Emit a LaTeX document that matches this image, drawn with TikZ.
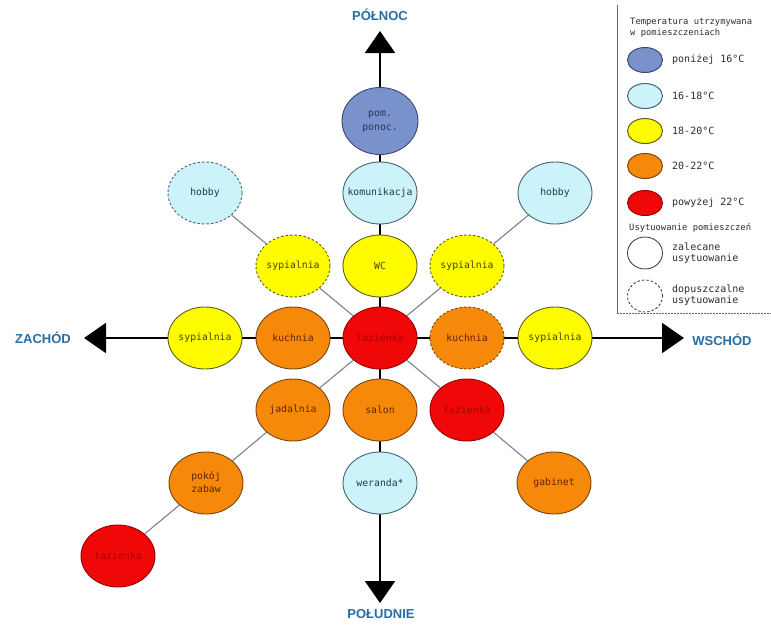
\documentclass[tikz,border=0pt]{standalone}
\usepackage{fontspec}
\setmainfont{Liberation Sans}
\newfontfamily\monofnt{DejaVu Sans Mono}
\usetikzlibrary{shapes.geometric,arrows.meta}
\pgfdeclarelayer{background}
\pgfsetlayers{background,main}
\definecolor{fBlue}{RGB}{122,146,204}
\definecolor{dBlue}{RGB}{60,72,110}
\definecolor{tBlue}{RGB}{40,50,90}
\definecolor{fCyan}{RGB}{204,242,250}
\definecolor{dCyan}{RGB}{70,100,115}
\definecolor{tCyan}{RGB}{30,60,75}
\definecolor{fYel}{RGB}{255,252,0}
\definecolor{dYel}{RGB}{95,95,30}
\definecolor{tYel}{RGB}{70,70,0}
\definecolor{fOra}{RGB}{247,137,10}
\definecolor{dOra}{RGB}{120,70,20}
\definecolor{tOra}{RGB}{95,35,0}
\definecolor{fRed}{RGB}{240,8,8}
\definecolor{dRed}{RGB}{150,0,0}
\definecolor{tRed}{RGB}{170,0,0}
\definecolor{dirBlue}{RGB}{40,110,165}
\definecolor{linkgray}{RGB}{125,130,140}
\definecolor{legText}{RGB}{45,45,45}
\newcommand\roomtxt{\monofnt\fontsize{9.8}{13}\selectfont}
\newcommand\legfont{\monofnt\fontsize{10}{11.5}\selectfont}
\newcommand\legtitlefont{\monofnt\fontsize{8.8}{11}\selectfont}
\newcommand\dirfont{\fontsize{13}{15}\selectfont\bfseries}
\newcommand\zw[1]{\makebox[0pt]{#1}}
\begin{document}
\begin{tikzpicture}[x=1pt,y=-1pt,
  room/.style={ellipse,minimum width=74pt,minimum height=62pt,inner sep=0pt,line width=0.9pt,font=\roomtxt},
  opt/.style={dash pattern=on 2.5pt off 2pt},
  cblue/.style={fill=fBlue,draw=dBlue,text=tBlue},
  ccyan/.style={fill=fCyan,draw=dCyan,text=tCyan},
  cyel/.style={fill=fYel,draw=dYel,text=tYel},
  cora/.style={fill=fOra,draw=dOra,text=tOra},
  cred/.style={fill=fRed,draw=dRed,text=tRed},
  axis/.style={line width=2pt,black},
  link/.style={line width=1.1pt,linkgray},
  tip/.style={-{Triangle[length=22pt,width=30pt]}},
  dirlabel/.style={font=\dirfont,text=dirBlue,inner sep=0pt},
  legdot/.style={ellipse,minimum width=35pt,minimum height=25pt,inner sep=0pt,line width=1pt},
  legout/.style={ellipse,minimum width=35pt,minimum height=32pt,inner sep=0pt,line width=0.8pt,draw=black!80,fill=white},
  legtxt/.style={font=\legfont,text=legText,anchor=west,align=left,inner sep=0pt},
  legframe/.style={line width=0.8pt,black!60}]

\begin{pgfonlayer}{background}
\fill[white] (0,0) rectangle (771,627);
\end{pgfonlayer}
\useasboundingbox (0,0) rectangle (771,627);

% rooms
\node[room,cred] (c) at (380,338) {\zw{łazienka}};
\node[room,cblue,minimum width=76pt,minimum height=67pt] (pom) at (380,121) {\zw{\begin{tabular}{@{}c@{}}pom.\\[1pt]ponoc.\end{tabular}}};
\node[room,ccyan] (kom) at (380,193) {\zw{komunikacja}};
\node[room,cyel] (wc) at (380,266) {\zw{WC}};
\node[room,ccyan,opt] (hobL) at (205,193) {\zw{hobby}};
\node[room,cyel,opt] (syUL) at (293,266) {\zw{sypialnia}};
\node[room,cyel,opt] (syUR) at (467,266) {\zw{sypialnia}};
\node[room,ccyan] (hobR) at (555,193) {\zw{hobby}};
\node[room,cyel] (syL) at (205,338) {\zw{sypialnia}};
\node[room,cora] (kuL) at (293,338) {\zw{kuchnia}};
\node[room,cora,opt] (kuR) at (467,338) {\zw{kuchnia}};
\node[room,cyel] (syR) at (555,338) {\zw{sypialnia}};
\node[room,cora] (jad) at (293,410) {\zw{jadalnia}};
\node[room,cora] (sal) at (380,410) {\zw{salon}};
\node[room,cred] (lazBR) at (467,410) {\zw{łazienka}};
\node[room,ccyan] (wer) at (380,483) {\zw{weranda*}};
\node[room,cora] (gab) at (554,483) {\zw{gabinet}};
\node[room,cora] (zab) at (206,483) {\zw{\begin{tabular}{@{}c@{}}pokój\\zabaw\end{tabular}}};
\node[room,cred] (lazBL) at (118,556) {\zw{łazienka}};

% axis ends
\coordinate (Ntip) at (380,31);
\coordinate (Stip) at (380,603);
\coordinate (Wtip) at (84,338);
\coordinate (Etip) at (684,338);

% direction labels
\node[dirlabel] (nN) at (380,15) {PÓŁNOC};
\node[dirlabel] (nS) at (381,614) {POŁUDNIE};
\node[dirlabel] (nW) at (43,338) {ZACHÓD};
\node[dirlabel] (nE) at (722,340) {WSCHÓD};

\begin{pgfonlayer}{background}
% axes
\draw[axis,tip] (pom) -- (Ntip);
\draw[axis] (pom) -- (kom);
\draw[axis] (kom) -- (wc);
\draw[axis] (wc) -- (c);
\draw[axis] (c) -- (sal);
\draw[axis] (sal) -- (wer);
\draw[axis,tip] (wer) -- (Stip);
\draw[axis,tip] (syL) -- (Wtip);
\draw[axis] (syL) -- (kuL);
\draw[axis] (kuL) -- (c);
\draw[axis] (c) -- (kuR);
\draw[axis] (kuR) -- (syR);
\draw[axis,tip] (syR) -- (Etip);
% diagonals
\draw[link] (c) -- (syUL);
\draw[link] (syUL) -- (hobL);
\draw[link] (c) -- (syUR);
\draw[link] (syUR) -- (hobR);
\draw[link] (c) -- (jad);
\draw[link] (jad) -- (zab);
\draw[link] (zab) -- (lazBL);
\draw[link] (c) -- (lazBR);
\draw[link] (lazBR) -- (gab);
\end{pgfonlayer}

% legend
\draw[legframe] (617,5) -- (617,313);
\draw[legframe,dash pattern=on 2pt off 1pt] (617,313) -- (771,313);
\node[legtxt,font=\legtitlefont] (lt1) at (630,27.5) {Temperatura utrzymywana\\w pomieszczeniach};
\node[legdot,cblue] (l1) at (645,60) {};
\node[legdot,ccyan] (l2) at (645,96) {};
\node[legdot,cyel] (l3) at (645,131) {};
\node[legdot,cora] (l4) at (645,166) {};
\node[legdot,cred] (l5) at (645,203) {};
\node[legtxt] (lt2) at (672,60) {poniżej 16°C};
\node[legtxt] (lt3) at (672,96) {16-18°C};
\node[legtxt] (lt4) at (672,131) {18-20°C};
\node[legtxt] (lt5) at (672,166) {20-22°C};
\node[legtxt] (lt6) at (672,203) {powyżej 22°C};
\node[legtxt,font=\legtitlefont] (lt7) at (629,228) {Usytuowanie pomieszczeń};
\node[legout] (l6) at (645,253) {};
\node[legout,opt] (l7) at (645,296) {};
\node[legtxt] (lt8) at (672,253) {zalecane\\usytuowanie};
\node[legtxt] (lt9) at (672,295) {dopuszczalne\\usytuowanie};
\end{tikzpicture}
\end{document}
